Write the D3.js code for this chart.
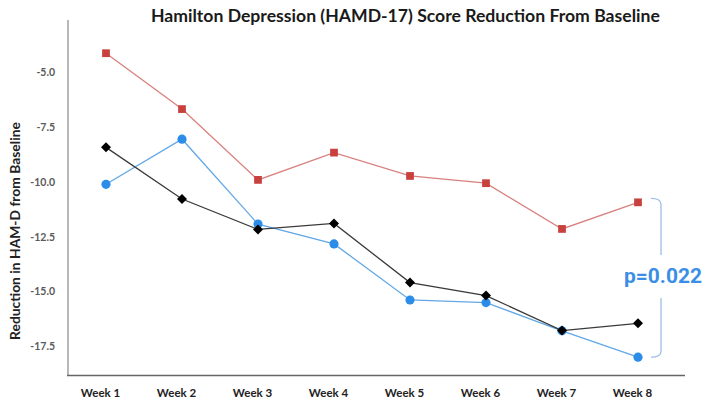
<!DOCTYPE html>
<html><head><meta charset="utf-8">
<script src="https://cdn.jsdelivr.net/npm/d3@7"></script>
<style>html,body{margin:0;padding:0;background:#fff;}svg{display:block;}</style>
</head><body>
<script>
const weeks = ["Week 1","Week 2","Week 3","Week 4","Week 5","Week 6","Week 7","Week 8"];
const redSeries   = [-4.16, -6.70, -9.92, -8.68, -9.74, -10.07, -12.15, -10.94];
const blueSeries  = [-10.12, -8.07, -11.93, -12.83, -15.38, -15.50, -16.78, -17.98];
const blackSeries = [-8.44, -10.79, -12.17, -11.90, -14.59, -15.18, -16.77, -16.44];
const yTicks = [-5.0, -7.5, -10.0, -12.5, -15.0, -17.5];
const titleText = "Hamilton Depression (HAMD-17) Score Reduction From Baseline";
const yLabelText = "Reduction in HAM-D from Baseline";
const pText = "p=0.022";

const W = 704, H = 405;
const svg = d3.select("body").append("svg").attr("width", W).attr("height", H);

const x = d3.scalePoint().domain(weeks).range([68, 676]).padding(0.5);
const y = d3.scaleLinear().domain([-18.8, -2.65]).range([375.2, 20]);

function fit(sel, target) {
  const n = sel.node();
  const w = n.getComputedTextLength();
  const fs = parseFloat(sel.attr("font-size"));
  sel.attr("font-size", fs * target / w);
}

// axes lines
svg.append("line").attr("x1", 68).attr("x2", 68).attr("y1", y.range()[1]).attr("y2", 375.5)
  .attr("stroke", "#b8b8b8").attr("stroke-width", 2);
svg.append("line").attr("x1", 67).attr("x2", 685).attr("y1", 375.5).attr("y2", 375.5)
  .attr("stroke", "#666").attr("stroke-width", 1.5);

// y ticks (labels only)
const yAxis = d3.axisLeft(y).tickValues(yTicks).tickFormat(d3.format(".1f")).tickSize(0).tickPadding(0);
const gy = svg.append("g").attr("transform", "translate(55,0)").call(yAxis);
gy.select(".domain").remove();
gy.selectAll("text").attr("font-family", "Lato, 'Open Sans', sans-serif").attr("font-weight", "bold")
  .attr("font-size", 10.5).attr("fill", "#5a5a5a").text(d => d3.format(".1f")(d).replace("−","-"));

// x labels
const xAxis = d3.axisBottom(x).tickSize(0).tickPadding(0);
const gx = svg.append("g").attr("transform", "translate(-6,389)").call(xAxis);
gx.select(".domain").remove();
gx.selectAll("text").attr("font-family", "Lato, 'Open Sans', sans-serif").attr("font-weight", "bold")
  .attr("font-size", 11.5).attr("fill", "#222");

// title
const t = svg.append("text").attr("x", 151).attr("y", 22).attr("font-family", "Lato, 'Open Sans', sans-serif")
  .attr("font-weight", "bold").attr("font-size", 16).attr("fill", "#1a1a1a").text(titleText);
fit(t, 509);

// y label
const yl = svg.append("text").attr("transform", "translate(20,231) rotate(-90)").attr("text-anchor", "middle")
  .attr("font-family", "Lato, 'Open Sans', sans-serif").attr("font-weight", "bold").attr("font-size", 12.5)
  .attr("fill", "#222").text(yLabelText);
fit(yl, 218);

// series
const line = d3.line().x((d, i) => x(weeks[i])).y(d => y(d));
function drawSeries(data, lineColor, markColor, shape, size) {
  svg.append("path").datum(data).attr("d", line).attr("fill", "none")
    .attr("stroke", lineColor).attr("stroke-width", 1.3);
  svg.append("g").selectAll("path").data(data).join("path")
    .attr("transform", (d, i) => `translate(${x(weeks[i])},${y(d)})` + (shape === "diamond" ? " rotate(45)" : ""))
    .attr("d", d3.symbol().type(shape === "circle" ? d3.symbolCircle : d3.symbolSquare).size(size))
    .attr("fill", markColor);
}
drawSeries(redSeries, "#d9807e", "#c8413f", "square", 60);
drawSeries(blueSeries, "#62a8e6", "#2b8de8", "circle", 66);
drawSeries(blackSeries, "#3a3a3a", "#000", "diamond", 50);

// bracket
const bx = 661, bTop = y(redSeries[7]) - 4, bBot = y(blueSeries[7]), gapTop = 255, gapBot = 298;
const bracket = d3.path();
bracket.moveTo(651, bTop); bracket.quadraticCurveTo(bx, bTop, bx, bTop + 6); bracket.lineTo(bx, gapTop);
bracket.moveTo(bx, gapBot); bracket.lineTo(bx, bBot - 6); bracket.quadraticCurveTo(bx, bBot, 651, bBot);
svg.append("path").attr("d", bracket.toString()).attr("fill", "none").attr("stroke", "#9dbde6").attr("stroke-width", 1.3);

const p = svg.append("text").attr("x", 663).attr("y", 283).attr("text-anchor", "middle")
  .attr("font-family", "Roboto, 'Open Sans', sans-serif").attr("font-weight", "bold").attr("font-size", 19)
  .attr("fill", "#3a8ee6").text(pText);
fit(p, 78);
</script>
</body></html>
